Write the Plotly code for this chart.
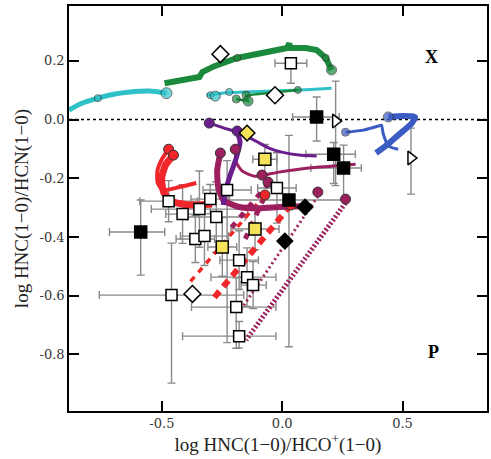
import plotly.graph_objects as go

# ---------------- observations ----------------
# open squares
sq_x = [0.036, -0.472, -0.414, -0.344, -0.299, -0.274, -0.229, -0.361, -0.323, -0.179, -0.146, -0.121, -0.191, -0.179, -0.460, -0.022]
sq_y = [0.192, -0.278, -0.322, -0.305, -0.271, -0.332, -0.240, -0.407, -0.397, -0.479, -0.537, -0.564, -0.639, -0.738, -0.598, -0.233]
sq_xm = [0.066, 0.12, 0.07, 0.20, 0.08, 0.12, 0.10, 0.08, 0.10, 0.08, 0.15, 0.05, 0.186, 0.235, 0.30, 0.08]
sq_xp = [0.066, 0.12, 0.07, 0.20, 0.08, 0.12, 0.10, 0.08, 0.10, 0.08, 0.12, 0.055, 0.165, 0.153, 0.30, 0.08]
sq_ym = [0.068, 0.07, 0.10, 0.13, 0.05, 0.12, 0.52, 0.08, 0.10, 0.10, 0.10, 0.08, 0.14, 0.04, 0.30, 0.12]
sq_yp = [0.0, 0.07, 0.10, 0.13, 0.05, 0.12, 0.10, 0.08, 0.10, 0.10, 0.10, 0.08, 0.10, 0.05, 0.177, 0.12]

# filled black squares
bk_x = [-0.588, 0.143, 0.028, 0.214, 0.255]
bk_y = [-0.383, 0.009, -0.274, -0.118, -0.165]
bk_xm = [0.13, 0.10, 0.25, 0.116, 0.136]
bk_xp = [0.10, 0.094, 0.23, 0.09, 0.074]
bk_ym = [0.147, 0.082, 0.50, 0.10, 0.109]
bk_yp = [0.109, 0.068, 0.22, 0.04, 0.078]

# yellow squares
ys_x = [-0.072, -0.113, -0.249]
ys_y = [-0.135, -0.373, -0.434]
ys_xe = [0.05, 0.10, 0.06]
ys_ye = [0.05, 0.07, 0.10]

# open right-pointing triangles
tr_x = [0.222, 0.535]
tr_y = [-0.005, -0.131]
tr_ym = [0.22, 0.123]
tr_yp = [0.136, 0.102]

# diamonds
od_x = [-0.257, -0.030, -0.373]
od_y = [0.223, 0.083, -0.594]
bd_x = [0.095, 0.011]
bd_y = [-0.298, -0.414]
yd_x = [-0.146]
yd_y = [-0.046]

# ---------------- model tracks ----------------
cyan_thick_x = [-0.886, -0.840, -0.766, -0.695, -0.633, -0.551, -0.481]
cyan_thick_y = [0.032, 0.053, 0.073, 0.087, 0.094, 0.097, 0.090]
cyan_thin_x = [-0.315, -0.220, -0.050, 0.100, 0.205]
cyan_thin_y = [0.083, 0.092, 0.097, 0.102, 0.107]
cyan_mk_x = [-0.766, -0.481, -0.298, -0.278, -0.220]
cyan_mk_y = [0.073, 0.090, 0.083, 0.080, 0.094]
cyan_mk_s = [7, 11, 7, 10, 7]

green_thick_x = [-0.489, -0.344, -0.332, -0.282, -0.187, -0.076, 0.020, 0.030, 0.031, 0.098, 0.143, 0.181, 0.205]
green_thick_y = [0.124, 0.145, 0.162, 0.182, 0.210, 0.230, 0.244, 0.260, 0.244, 0.244, 0.237, 0.210, 0.169]
green_thin_x = [0.065, -0.150, -0.142, -0.191]
green_thin_y = [0.101, 0.083, 0.063, 0.070]
green_mk_x = [-0.187, 0.181, 0.205, 0.065, -0.150, -0.142, -0.191]
green_mk_y = [0.210, 0.210, 0.169, 0.101, 0.083, 0.063, 0.070]
green_mk_s = [7, 7, 10, 7, 8, 10, 8]

blue_thin_x = [0.263, 0.338, 0.400, 0.412, 0.420, 0.441, 0.482]
blue_thin_y = [-0.043, -0.036, -0.022, -0.019, -0.049, -0.090, -0.101]
blue_thick_x = [0.441, 0.503, 0.552, 0.536, 0.482, 0.441, 0.390]
blue_thick_y = [0.009, 0.012, 0.009, -0.015, -0.053, -0.083, -0.114]
blue_mk_x = [0.441, 0.263]
blue_mk_y = [0.009, -0.043]
blue_mk_s = [10, 8]

red1_x = [-0.472, -0.497, -0.518, -0.518, -0.497, -0.427, -0.357]
red1_y = [-0.101, -0.131, -0.172, -0.213, -0.240, -0.230, -0.216]
red2_x = [-0.452, -0.485, -0.501, -0.493, -0.460, -0.386, -0.291]
red2_y = [-0.121, -0.155, -0.199, -0.247, -0.278, -0.291, -0.288]
red_dash1_x = [-0.072, -0.394]
red_dash1_y = [-0.257, -0.564]
red_dash2_x = [0.036, -0.291]
red_dash2_y = [-0.291, -0.615]
red_mk_x = [-0.472, -0.452, -0.072, 0.036]
red_mk_y = [-0.101, -0.121, -0.257, -0.291]

purple_thin_x = [-0.303, -0.241, -0.187, -0.117, -0.055, -0.001, 0.069, 0.143]
purple_thin_y = [-0.012, -0.029, -0.043, -0.070, -0.097, -0.111, -0.121, -0.124]
purple_thick_x = [-0.187, -0.175, -0.191, -0.216, -0.237, -0.245]
purple_thick_y = [-0.043, -0.077, -0.131, -0.189, -0.247, -0.291]
purple_mk_x = [-0.303, -0.187]
purple_mk_y = [-0.012, -0.039]

wine_thick_x = [-0.257, -0.270, -0.266, -0.245, -0.179, -0.096, -0.014, 0.081]
wine_thick_y = [-0.114, -0.172, -0.230, -0.274, -0.298, -0.302, -0.298, -0.295]
wine_thin_x = [-0.195, -0.191, -0.167, -0.113, -0.014, 0.110, 0.305]
wine_thin_y = [-0.101, -0.145, -0.175, -0.193, -0.179, -0.165, -0.152]
wine_dot1_x = [0.263, -0.150]
wine_dot1_y = [-0.284, -0.751]
wine_dot2_x = [0.148, -0.179]
wine_dot2_y = [-0.261, -0.656]
wine_dashA_x = [-0.055, -0.217]
wine_dashA_y = [-0.216, -0.374]
wine_dashB_x = [-0.076, -0.163]
wine_dashB_y = [-0.267, -0.424]
wine_mk_x = [-0.257, -0.195, -0.084, -0.059, 0.148, 0.263]
wine_mk_y = [-0.114, -0.101, -0.189, -0.213, -0.247, -0.271]

x_ticks = [-0.5, 0.0, 0.5]
x_ticktext = ["-0.5", "0.0", "0.5"]
y_ticks = [0.2, 0.0, -0.2, -0.4, -0.6, -0.8]
y_ticktext = ["0.2", "0.0", "-0.2", "-0.4", "-0.6", "-0.8"]

CYAN = "#2fc1c7"
GREEN = "#1b8a3c"
BLUE = "#3b5cc2"
RED = "#f0262a"
PURPLE = "#6b1f8e"
WINE = "#9c1f5e"
GOLD = "#f6e25a"
GRAY = "#8a8a8a"

fig = go.Figure()


def errs(x, y, xm, xp, ym, yp):
    fig.add_trace(go.Scatter(
        x=x, y=y, mode="markers",
        marker=dict(size=1, color="rgba(0,0,0,0)"),
        error_x=dict(type="data", symmetric=False, array=xp, arrayminus=xm,
                     color=GRAY, thickness=1.4, width=4),
        error_y=dict(type="data", symmetric=False, array=yp, arrayminus=ym,
                     color=GRAY, thickness=1.4, width=4),
        showlegend=False, hoverinfo="skip"))


errs(sq_x, sq_y, sq_xm, sq_xp, sq_ym, sq_yp)
errs(bk_x, bk_y, bk_xm, bk_xp, bk_ym, bk_yp)
errs(ys_x, ys_y, ys_xe, ys_xe, ys_ye, ys_ye)
errs(tr_x, tr_y, [0, 0], [0, 0], tr_ym, tr_yp)


def line(x, y, color, width, dash="solid"):
    fig.add_trace(go.Scatter(x=x, y=y, mode="lines",
                             line=dict(color=color, width=width, dash=dash, shape="spline", smoothing=0.6),
                             showlegend=False, hoverinfo="skip"))


def straight(x, y, color, width, dash):
    fig.add_trace(go.Scatter(x=x, y=y, mode="lines",
                             line=dict(color=color, width=width, dash=dash),
                             showlegend=False, hoverinfo="skip"))


def dots(x, y, color, size):
    fig.add_trace(go.Scatter(x=x, y=y, mode="markers",
                             marker=dict(color=color, size=size, line=dict(color="#333333", width=1)),
                             showlegend=False, hoverinfo="skip"))


# dotted/dashed tracks
straight(wine_dot1_x, wine_dot1_y, WINE, 5, "2px,2px")
straight(wine_dot2_x, wine_dot2_y, WINE, 3, "2px,3px")
straight(wine_dashA_x, wine_dashA_y, WINE, 5, "6px,7px")
straight(wine_dashB_x, wine_dashB_y, WINE, 5, "6px,7px")
straight(red_dash1_x, red_dash1_y, RED, 3.5, "6px,6px")
straight(red_dash2_x, red_dash2_y, RED, 6, "8px,6px")

# solid tracks
line(cyan_thick_x, cyan_thick_y, CYAN, 5)
line(cyan_thin_x, cyan_thin_y, CYAN, 3)
fig.add_trace(go.Scatter(x=green_thick_x, y=green_thick_y, mode="lines",
                         line=dict(color=GREEN, width=6), showlegend=False, hoverinfo="skip"))
straight(green_thin_x, green_thin_y, GREEN, 2.5, "solid")
line(blue_thin_x, blue_thin_y, BLUE, 3)
line(blue_thick_x, blue_thick_y, BLUE, 6)
line(wine_thick_x, wine_thick_y, WINE, 6)
line(wine_thin_x, wine_thin_y, WINE, 3)
line(purple_thin_x, purple_thin_y, PURPLE, 3)
line(purple_thick_x, purple_thick_y, PURPLE, 5)
line(red1_x, red1_y, RED, 4)
line(red2_x, red2_y, RED, 7)

# model markers
dots(cyan_mk_x, cyan_mk_y, CYAN, cyan_mk_s)
dots(green_mk_x, green_mk_y, GREEN, green_mk_s)
dots(blue_mk_x, blue_mk_y, BLUE, blue_mk_s)
dots(wine_mk_x, wine_mk_y, WINE, 10)
dots(purple_mk_x, purple_mk_y, PURPLE, 10)
dots(red_mk_x, red_mk_y, RED, 10)

# observation markers
def obs(x, y, symbol, fill, size):
    fig.add_trace(go.Scatter(x=x, y=y, mode="markers",
                             marker=dict(symbol=symbol, color=fill, size=size,
                                         line=dict(color="black", width=1.5)),
                             showlegend=False, hoverinfo="skip"))


obs(sq_x, sq_y, "square", "white", 11)
obs(bk_x, bk_y, "square", "black", 12)
obs(ys_x, ys_y, "square", GOLD, 12)
obs(tr_x, tr_y, "triangle-right", "white", 12)
obs(od_x, od_y, "diamond", "white", 13)
obs(bd_x, bd_y, "diamond", "black", 12)
obs(yd_x, yd_y, "diamond", GOLD, 12)

fig.add_shape(type="line", xref="paper", x0=0, x1=1, y0=0, y1=0,
              line=dict(color="black", width=1.5, dash="dot"), layer="below")

fig.add_annotation(x=0.62, y=0.213, text="<b>X</b>", showarrow=False,
                   font=dict(family="Liberation Serif", size=18, color="black"))
fig.add_annotation(x=0.63, y=-0.792, text="<b>P</b>", showarrow=False,
                   font=dict(family="Liberation Serif", size=18, color="black"))

axis_common = dict(showline=True, linecolor="black", linewidth=1.5, mirror="ticks",
                   ticks="inside", ticklen=10, tickwidth=1.5, tickcolor="black",
                   showgrid=False, zeroline=False,
                   tickfont=dict(family="DejaVu Serif", size=13, color="#333333"))

fig.update_layout(
    width=491, height=459,
    margin=dict(l=69, r=2, t=6, b=48),
    plot_bgcolor="white", paper_bgcolor="white",
    xaxis=dict(range=[-0.886, 0.851], tickvals=x_ticks, ticktext=x_ticktext,
               title=dict(text="log HNC(1\u22120)/HCO<sup>+</sup>(1\u22120)", standoff=4,
                          font=dict(family="Liberation Serif", size=19, color="#222222")),
               **axis_common),
    yaxis=dict(range=[-0.993, 0.387], tickvals=y_ticks, ticktext=y_ticktext,
               title=dict(text="log HNC(1\u22120)/HCN(1\u22120)", standoff=6,
                          font=dict(family="Liberation Serif", size=19, color="#222222")),
               **axis_common),
)

fig.write_html("out.html")
